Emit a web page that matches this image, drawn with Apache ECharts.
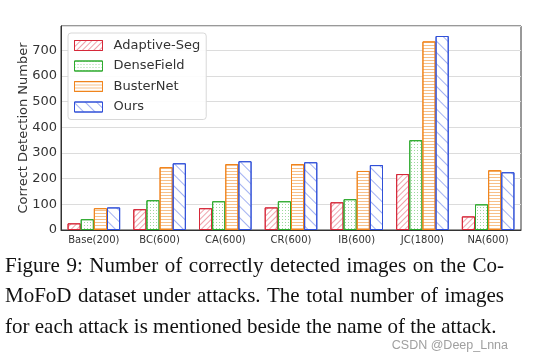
<!DOCTYPE html>
<html>
<head>
<meta charset="utf-8">
<script src="https://cdn.jsdelivr.net/npm/echarts@6/dist/echarts.min.js"></script>
<style>html,body{margin:0;padding:0;background:#fff;}#c{width:551px;height:362px;}</style>
</head>
<body>
<div id="c"></div>
<script>
const categories = ['Base(200)', 'BC(600)', 'CA(600)', 'CR(600)', 'IB(600)', 'JC(1800)', 'NA(600)'];
const adaptiveSeg = [26, 81, 85, 88, 108, 218, 53];
const denseField = [42, 116, 112, 112, 120, 350, 100];
const busterNet = [85, 245, 257, 257, 230, 735, 233];
const ours = [88, 260, 268, 264, 253, 756, 225];
const yTicks = [0, 100, 200, 300, 400, 500, 600, 700];
const captionLines = [
  'Figure 9:  Number of correctly detected images on the Co-',
  'MoFoD dataset under attacks.  The total number of images',
  'for each attack is mentioned beside the name of the attack.'
];
const watermark = 'CSDN @Deep_Lnna';

const chart = echarts.init(document.getElementById('c'), null, {renderer: 'canvas'});

function mk(name, data, edge, hatch, decal) {
  return {
    name: name, type: 'bar', data: data,
    barGap: '0%', barCategoryGap: '20%',
    itemStyle: {
      color: '#ffffff', borderColor: edge, borderWidth: 1,
      decal: Object.assign({color: hatch, symbol: 'rect', symbolSize: 1}, decal)
    }
  };
}

// caption as justified words
const capFont = '21px "Liberation Serif"';
const cctx = document.createElement('canvas').getContext('2d');
cctx.font = capFont;
const capLeft = 5, capWidth = 499;
const capY = [266, 296, 327];
const graphics = [];
captionLines.forEach(function (line, li) {
  const words = line.split(/\s+/);
  const justify = li < captionLines.length - 1;
  const wsum = words.reduce(function (s, w) { return s + cctx.measureText(w).width; }, 0);
  const sp = justify ? (capWidth - wsum) / (words.length - 1) : cctx.measureText(' ').width;
  let x = capLeft;
  words.forEach(function (w) {
    graphics.push({type: 'text', x: x, y: capY[li], style: {text: w, font: capFont, fill: '#111', verticalAlign: 'middle'}});
    x += cctx.measureText(w).width + sp;
  });
});
graphics.push({type: 'text', right: 43, y: 346, style: {text: watermark, font: '12.5px "Liberation Sans"', fill: '#a0a0a0', verticalAlign: 'middle'}});

chart.setOption({
  animation: false,
  backgroundColor: '#fff',
  grid: {left: 61, top: 26, right: 30, bottom: 132, show: true, borderColor: '#333', borderWidth: 1, backgroundColor: 'transparent'},
  legend: {
    left: 68, top: 33, orient: 'vertical', padding: [6, 6, 6, 6],
    icon: 'rect',
    itemWidth: 28, itemHeight: 10, itemGap: 7.5,
    itemStyle: {borderWidth: 1},
    backgroundColor: 'rgba(255,255,255,0.9)', borderColor: '#d8d8d8', borderWidth: 1, borderRadius: 3,
    textStyle: {fontFamily: 'DejaVu Sans', fontSize: 13, color: '#333', padding: [0, 0, 0, 6]},
    data: ['Adaptive-Seg', 'DenseField', 'BusterNet', 'Ours']
  },
  xAxis: {
    type: 'category', data: categories,
    axisLine: {show: true, lineStyle: {color: '#333', width: 1}},
    axisTick: {show: false},
    axisLabel: {fontFamily: 'DejaVu Sans', fontSize: 10, color: '#333', margin: 5, interval: 0},
    splitLine: {show: false}
  },
  yAxis: {
    type: 'value', min: 0, max: 795, interval: 100,
    name: 'Correct Detection Number', nameLocation: 'middle', nameGap: 31, nameMoveOverlap: false,
    nameTextStyle: {fontFamily: 'DejaVu Sans', fontSize: 13, color: '#333'},
    axisLine: {show: true, lineStyle: {color: '#333'}},
    axisTick: {show: false},
    axisLabel: {fontFamily: 'DejaVu Sans', fontSize: 13, color: '#333', margin: 4, showMaxLabel: false,
      formatter: function (v) { return yTicks.indexOf(v) >= 0 ? String(v) : ''; }},
    splitLine: {show: true, lineStyle: {color: '#dcdcdc', width: 1}}
  },
  series: [
    mk('Adaptive-Seg', adaptiveSeg, '#d62839', 'rgba(225,70,90,0.5)', {dashArrayX: [1, 0], dashArrayY: [1, 3], rotation: -Math.PI / 4}),
    mk('DenseField', denseField, '#2eaa2e', 'rgba(60,180,60,0.5)', {dashArrayX: [1, 2], dashArrayY: [1, 2]}),
    mk('BusterNet', busterNet, '#f0841c', 'rgba(240,140,40,0.55)', {dashArrayX: [1, 0], dashArrayY: [1, 2]}),
    mk('Ours', ours, '#3050d8', 'rgba(70,100,230,0.5)', {dashArrayX: [1, 0], dashArrayY: [1, 7], rotation: Math.PI / 4})
  ],
  graphic: graphics
});
</script>
</body>
</html>
